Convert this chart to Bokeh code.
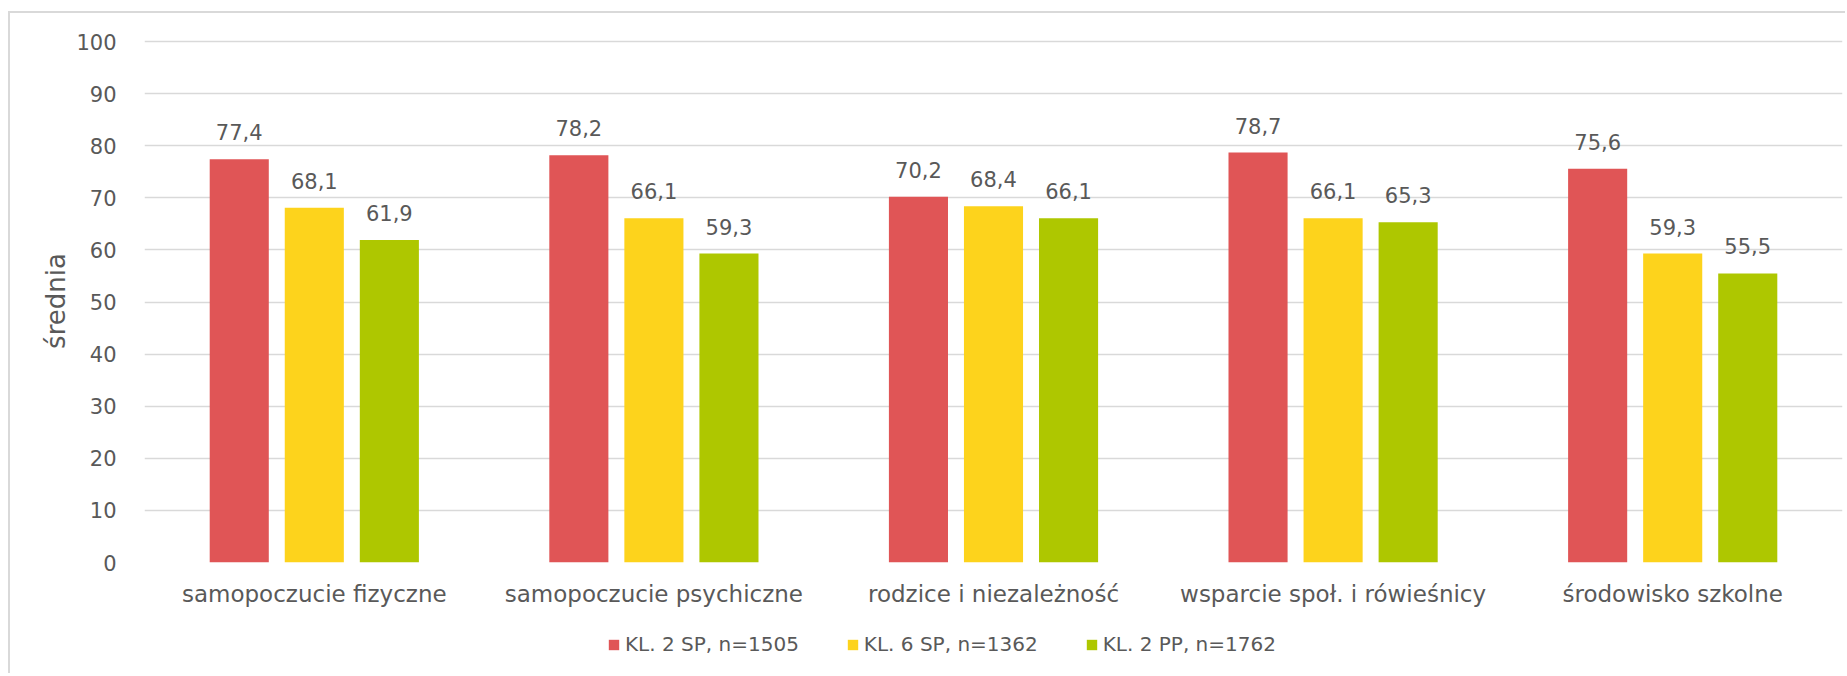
from bokeh.plotting import figure
from bokeh.layouts import column
from bokeh.models import (ColumnDataSource, FactorRange, Range1d, LabelSet, Legend,
                          LegendItem)
from bokeh.core.properties import value
from bokeh.transform import dodge
from bokeh.embed import file_html
from bokeh.resources import INLINE

categories = ["samopoczucie fizyczne", "samopoczucie psychiczne", "rodzice i niezależność",
              "wsparcie społ. i rówieśnicy", "środowisko szkolne"]
series_names = ["KL. 2 SP, n=1505", "KL. 6 SP, n=1362", "KL. 2 PP, n=1762"]
kl2_sp = [77.4, 78.2, 70.2, 78.7, 75.6]
kl6_sp = [68.1, 66.1, 68.4, 66.1, 59.3]
kl2_pp = [61.9, 59.3, 66.1, 65.3, 55.5]
y_ticks = [0, 10, 20, 30, 40, 50, 60, 70, 80, 90, 100]
colors = ["#E05556", "#FDD31C", "#AEC700"]

TXT = "#595959"
FONT = "DejaVu Sans"
W, HM, HL = 1835, 600, 60

def fmt(v):
    return f"{v:.1f}".replace(".", ",")

cols = ["s1", "s2", "s3"]
data = dict(cat=categories, s1=kl2_sp, s2=kl6_sp, s3=kl2_pp)
for c in cols:
    data[c + "_lbl"] = [fmt(v) for v in data[c]]
src = ColumnDataSource(data)

p = figure(width=W, height=HM, x_range=FactorRange(factors=categories, range_padding=0),
           y_range=Range1d(0, 100.4), output_backend="svg", toolbar_location=None,
           min_border_left=134, min_border_top=26, min_border_right=3, min_border_bottom=51)
p.outline_line_color = None
p.background_fill_color = "white"
p.border_fill_color = "white"

offsets = [-0.221, 0.0, 0.221]
bw = 0.174
for c, off, col in zip(cols, offsets, colors):
    p.vbar(x=dodge("cat", off, range=p.x_range), top=c, width=bw, bottom=0,
           source=src, fill_color=col, line_color=None)
    lbl = LabelSet(x=dodge("cat", off, range=p.x_range), y=c, text=c + "_lbl", source=src,
                   text_align="center", text_baseline="middle", y_offset=27,
                   text_font=value(FONT), text_font_size=value("21px"),
                   text_color=value(TXT))
    p.add_layout(lbl)

# grid
p.xgrid.grid_line_color = None
p.ygrid.grid_line_color = "#D9D9D9"
p.ygrid.grid_line_width = 1.5
p.ygrid.ticker = y_ticks

# y axis
p.yaxis.ticker = y_ticks
p.yaxis.axis_line_color = None
p.yaxis.major_tick_line_color = None
p.yaxis.minor_tick_line_color = None
p.yaxis.major_label_standoff = 22
p.yaxis.major_label_text_font = FONT
p.yaxis.major_label_text_font_size = "21px"
p.yaxis.major_label_text_color = TXT
p.yaxis.axis_label = "średnia"
p.yaxis.axis_label_text_font = FONT
p.yaxis.axis_label_text_font_size = "26px"
p.yaxis.axis_label_text_font_style = "normal"
p.yaxis.axis_label_text_color = TXT
p.yaxis.axis_label_standoff = 2

# x axis
p.xaxis.axis_line_color = None
p.xaxis.major_tick_line_color = None
p.xaxis.minor_tick_line_color = None
p.xaxis.major_label_standoff = 12
p.xaxis.major_label_text_font = FONT
p.xaxis.major_label_text_font_size = "23px"
p.xaxis.major_label_text_color = TXT

# legend figure
p2 = figure(width=W, height=HL, x_range=FactorRange(factors=categories, range_padding=0),
            y_range=Range1d(0, 100), output_backend="svg", toolbar_location=None,
            min_border=0, x_axis_location=None, y_axis_location=None)
p2.outline_line_color = None
p2.grid.visible = False
items = []
for c, col, name in zip(cols, colors, series_names):
    r = p2.vbar(x="cat", top=c, width=bw, source=src, fill_color=col, line_color=None,
                visible=False)
    items.append(LegendItem(label=name, renderers=[r]))
legend = Legend(items=items, orientation="horizontal", location=(463, 17),
                glyph_width=13, glyph_height=13, label_standoff=5, spacing=47,
                padding=0, margin=0, border_line_color=None, background_fill_alpha=0,
                inactive_fill_alpha=0, label_height=20,
                label_text_font=FONT, label_text_font_size="20px",
                label_text_color=TXT)
p2.add_layout(legend, "center")

layout = column(p, p2, spacing=0)
layout.styles = {"margin-left": "8px", "margin-top": "11px",
                 "border-left": "2px solid #D9D9D9", "border-top": "2px solid #D9D9D9"}

open("out.html", "w").write(file_html(layout, INLINE))
